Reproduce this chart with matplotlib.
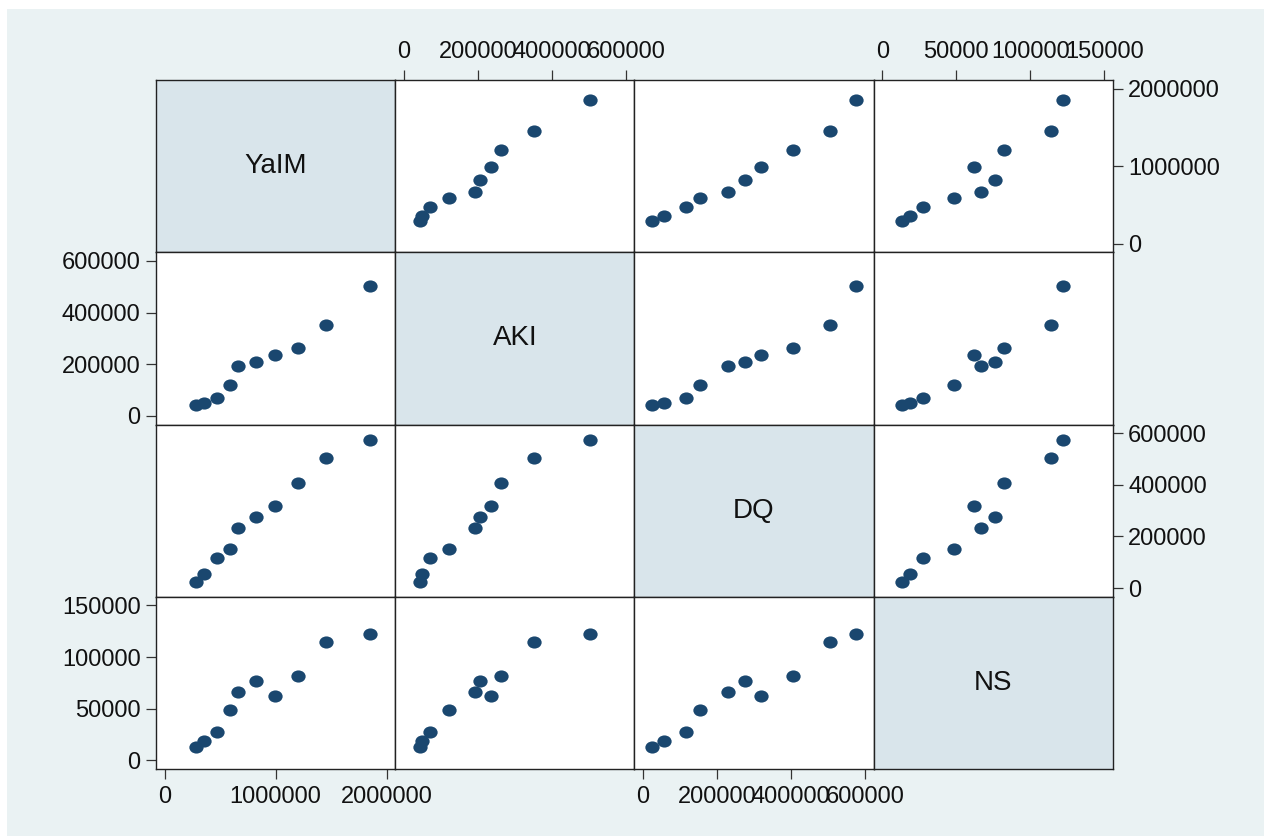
import matplotlib
matplotlib.use("Agg")
import matplotlib.pyplot as plt
from matplotlib.path import Path
from matplotlib.patches import Rectangle

plt.rcParams["font.family"] = ["Liberation Sans", "DejaVu Sans"]

# data (ordered by YaIM)
names = ["YaIM", "AKI", "DQ", "NS"]
yaim = [286000, 352000, 472000, 593000, 665000, 819000, 994000, 1205000, 1455000, 1852000]
aki = [43000, 49000, 70000, 121000, 193000, 207000, 237000, 263000, 353000, 504000]
dq = [24000, 56000, 117000, 153000, 231000, 275000, 318000, 406000, 505000, 575000]
ns = [13400, 18500, 27900, 48300, 66500, 76400, 62000, 82100, 114200, 121900]
tick_vals = [
    [0, 1000000, 2000000],
    [0, 200000, 400000, 600000],
    [0, 200000, 400000, 600000],
    [0, 50000, 100000, 150000],
]
cols = [yaim, aki, dq, ns]

W, H = 1264, 836
fig = plt.figure(figsize=(W / 100, H / 100), dpi=100)
fig.patch.set_facecolor("white")
fig.patches.append(Rectangle((7 / W, 0), 1 - 7 / W, 1 - 9 / H, transform=fig.transFigure,
                             facecolor="#eaf2f3", edgecolor="none", zorder=-10))

x0, cw = 156, 239.2
y0, rh = 80, 172.25
m = 8.6  # pixel margin between outer ticks and cell frame

circ = Path.unit_circle()
dot = Path(circ.vertices * [1.0, 0.85], circ.codes)
navy = "#1a476f"


def lims(t, size):
    span = t[-1] - t[0]
    pad = span * m / (size - 2 * m)
    return t[0] - pad, t[-1] + pad


for i in range(4):
    for j in range(4):
        left = (x0 + j * cw) / W
        bottom = 1 - (y0 + (i + 1) * rh) / H
        ax = fig.add_axes([left, bottom, cw / W, rh / H])
        for s in ax.spines.values():
            s.set_color("#222222")
            s.set_linewidth(1.0)
        ax.tick_params(which="both", bottom=False, top=False, left=False, right=False,
                       labelbottom=False, labeltop=False, labelleft=False, labelright=False)
        if i == j:
            ax.set_facecolor("#d9e5eb")
            ax.text(0.5, 0.5, names[i], transform=ax.transAxes, ha="center", va="center",
                    fontsize=20, color="#111111")
            ax.set_xticks([])
            ax.set_yticks([])
            continue
        ax.set_facecolor("white")
        ax.plot(cols[j], cols[i], linestyle="none", marker=dot, markersize=10.3,
                color=navy, markeredgewidth=0)
        ax.set_xlim(*lims(tick_vals[j], cw))
        ax.set_ylim(*lims(tick_vals[i], rh))
        ax.set_xticks(tick_vals[j])
        ax.set_xticklabels([str(v) for v in tick_vals[j]])
        ax.set_yticks(tick_vals[i])
        ax.set_yticklabels([str(v) for v in tick_vals[i]])

        kw = dict(length=7, width=0.9, color="#333333", labelsize=17, labelcolor="#111111")
        # column axes alternate bottom/top, row axes alternate right/left
        if i == 3 and j % 2 == 0:
            ax.tick_params(axis="x", bottom=True, labelbottom=True, pad=5, **kw)
        if i == 0 and j % 2 == 1:
            ax.tick_params(axis="x", top=True, labeltop=True, pad=5, **kw)
        if j == 0 and i % 2 == 1:
            ax.tick_params(axis="y", left=True, labelleft=True, pad=4, **kw)
        if j == 3 and i % 2 == 0:
            ax.tick_params(axis="y", right=True, labelright=True, pad=4, **kw)

fig.savefig("out.png", dpi=100)
